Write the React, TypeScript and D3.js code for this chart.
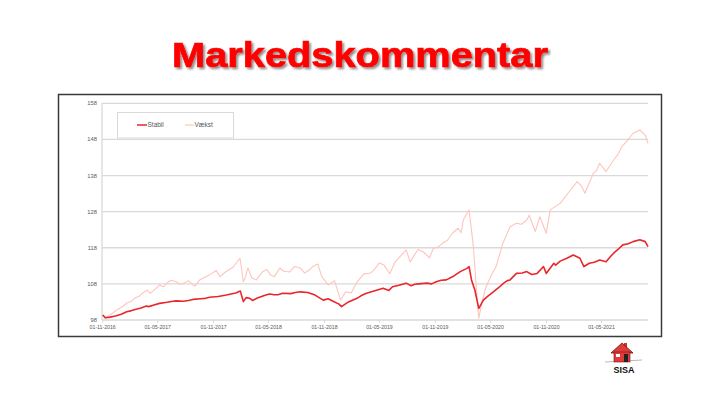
import React from 'react';
import * as d3 from 'd3';

const TITLE = 'Markedskommentar';
const seriesNames = ['Stabil', 'Vækst'];

const stabilDates = [
  '2016-11-01','2016-11-10','2016-11-25','2016-12-13','2017-01-01','2017-01-19','2017-02-04','2017-02-19',
  '2017-03-07','2017-03-25','2017-04-16','2017-05-07','2017-06-01','2017-07-01','2017-07-25','2017-08-25',
  '2017-09-19','2017-10-19','2017-11-16','2017-12-13','2018-01-13','2018-01-28','2018-02-07','2018-02-16',
  '2018-02-28','2018-03-10','2018-03-25','2018-04-22','2018-05-19','2018-06-16','2018-07-13','2018-08-13',
  '2018-09-07','2018-10-01','2018-10-28','2018-11-13','2018-12-01','2018-12-19','2018-12-27','2019-01-19',
  '2019-02-16','2019-03-19','2019-04-16','2019-05-13','2019-06-01','2019-06-13','2019-07-04','2019-07-28',
  '2019-08-13','2019-09-07','2019-10-04','2019-11-04','2019-12-07','2020-01-01','2020-01-22','2020-02-13',
  '2020-02-20','2020-02-28','2020-03-10','2020-03-23','2020-04-07','2020-04-22','2020-05-10','2020-05-28',
  '2020-06-13','2020-07-04','2020-07-25','2020-08-13','2020-08-28','2020-09-13','2020-10-01','2020-10-22',
  '2020-10-31','2020-11-25','2020-12-16','2021-01-07','2021-01-28','2021-02-19','2021-03-04','2021-03-22',
  '2021-04-07','2021-04-25','2021-05-16','2021-06-10','2021-06-25','2021-07-10','2021-07-28','2021-08-13',
  '2021-09-04','2021-09-22','2021-10-01',
  '2017-04-01','2017-06-15','2017-08-10','2017-10-05','2017-11-30','2018-05-05','2018-06-01','2018-07-28',
  '2019-03-01','2019-08-25','2019-10-20','2019-11-20','2020-06-25','2020-12-01','2021-06-01'
];
const stabilValues = [
  99.4, 98.6, 98.8, 99.1, 99.6, 100.3, 100.6, 101.0,
  101.3, 101.9, 102.1, 102.6, 102.9, 103.3, 103.2, 103.7,
  103.9, 104.3, 104.5, 104.9, 105.5, 106.0, 103.1, 104.2,
  104.0, 103.4, 104.1, 104.9, 105.0, 105.4, 105.3, 105.8,
  105.6, 104.9, 103.5, 103.9, 103.1, 102.4, 101.7, 103.0,
  104.0, 105.4, 106.1, 106.8, 106.2, 107.2, 107.6, 108.2,
  107.5, 108.0, 108.2, 108.6, 109.1, 110.2, 111.4, 112.3,
  112.8, 109.1, 106.3, 101.2, 103.5, 104.6, 105.8, 107.0,
  108.2, 109.1, 110.9, 111.0, 111.4, 110.6, 110.9, 112.8,
  110.9, 113.7, 114.3, 115.1, 116.0, 115.1, 112.8, 113.7,
  114.0, 114.6, 114.1, 116.5, 117.6, 118.8, 119.1, 119.7,
  120.2, 119.7, 118.3,
  101.7, 103.1, 103.4, 104.0, 104.7, 105.2, 105.0, 105.6,
  104.7, 107.9, 108.0, 109.0, 108.9, 113.2, 115.7
];

const vaekstDates = [
  '2016-11-01','2016-11-10','2016-11-25','2016-12-22','2017-01-07','2017-01-19','2017-02-04','2017-02-15',
  '2017-03-01','2017-03-13','2017-03-28','2017-04-16','2017-05-07','2017-06-04','2017-07-01','2017-07-28',
  '2017-08-25','2017-09-16','2017-10-19','2017-11-10','2017-11-22','2017-12-10','2018-01-04','2018-01-27',
  '2018-02-07','2018-02-12','2018-02-22','2018-03-07','2018-03-22','2018-04-10','2018-05-07','2018-06-07',
  '2018-07-10','2018-08-13','2018-09-13','2018-10-10','2018-10-22','2018-11-13','2018-12-04','2018-12-24',
  '2019-01-10','2019-01-28','2019-02-16','2019-03-10','2019-04-13','2019-05-16','2019-06-04','2019-06-22',
  '2019-07-07','2019-07-28','2019-08-10','2019-09-22','2019-10-13','2019-11-25','2019-12-28','2020-02-01',
  '2020-02-20','2020-03-04','2020-03-10','2020-03-20','2020-03-23','2020-04-04','2020-04-16','2020-05-04',
  '2020-05-19','2020-06-10','2020-07-04','2020-07-25','2020-08-28','2020-09-25','2020-10-10','2020-10-31',
  '2020-11-13','2020-12-16','2021-01-19','2021-02-10','2021-03-07','2021-04-04','2021-04-25','2021-05-16',
  '2021-06-10','2021-07-07','2021-07-22','2021-08-13','2021-09-04','2021-09-22','2021-10-01',
  '2017-04-05','2017-05-20','2017-06-15','2017-07-12','2017-08-10','2017-09-01','2018-04-25','2018-05-20',
  '2018-06-20','2018-07-25','2018-08-28','2018-09-25','2019-04-01','2019-05-01','2019-09-05','2019-10-25',
  '2019-11-10','2019-12-10','2020-01-15','2020-01-25','2020-08-10','2020-09-05','2021-02-25','2021-04-15',
  '2021-06-25'
];
const vaekstValues = [
  99.4, 98.6, 99.4, 101.0, 101.8, 102.7, 103.2, 104.1,
  104.6, 105.5, 106.3, 106.0, 107.7, 108.5, 108.6, 108.2,
  107.7, 109.1, 110.5, 111.7, 110.0, 111.3, 112.6, 115.1,
  108.6, 109.4, 112.4, 109.6, 109.1, 111.3, 110.5, 112.4,
  111.3, 112.4, 111.9, 113.5, 110.2, 107.7, 108.9, 103.5,
  105.8, 105.5, 108.5, 110.7, 111.9, 113.2, 110.8, 114.1,
  115.5, 117.4, 114.1, 116.9, 115.2, 119.3, 122.1, 125.7,
  128.5, 119.3, 112.8, 100.8, 98.5, 103.5, 107.2, 110.5,
  112.8, 119.2, 123.8, 124.8, 125.7, 122.5, 126.6, 122.0,
  128.5, 130.3, 134.0, 136.3, 133.1, 138.6, 141.4, 139.1,
  142.3, 146.0, 147.4, 149.7, 150.6, 149.2, 146.9,
  105.4, 107.2, 109.0, 107.9, 108.9, 107.4, 112.0, 110.0,
  111.5, 112.8, 111.0, 112.9, 111.0, 113.8, 117.5, 117.8,
  118.2, 120.0, 123.4, 122.2, 124.5, 127.0, 135.0, 139.5,
  144.0
];

const yTicks = [98, 108, 118, 128, 138, 148, 158];
const xTickDates = ['2016-11-01','2017-05-01','2017-11-01','2018-05-01','2018-11-01','2019-05-01','2019-11-01','2020-05-01','2020-11-01','2021-05-01'];
const xTickLabels = ['01-11-2016','01-05-2017','01-11-2017','01-05-2018','01-11-2018','01-05-2019','01-11-2019','01-05-2020','01-11-2020','01-05-2021'];
const xDomain = ['2016-11-01', '2021-10-01'];

const parse = d3.timeParse('%Y-%m-%d');
const FONT = '"Liberation Sans", Arial, sans-serif';

function pairs(dates: string[], values: number[]): [Date, number][] {
  return dates
    .map((d, i) => [parse(d) as Date, values[i]] as [Date, number])
    .sort((a, b) => a[0].getTime() - b[0].getTime());
}

export default function App() {
  const x = d3.scaleTime().domain(xDomain.map((d) => parse(d) as Date)).range([102.7, 648]);
  const y = d3.scaleLinear().domain([98, 158]).range([320, 103.3]);
  const line = d3.line<[Date, number]>().x((d) => x(d[0])).y((d) => y(d[1]));
  const stabil = pairs(stabilDates, stabilValues);
  const vaekst = pairs(vaekstDates, vaekstValues);
  const stabilColor = '#e8262b';
  const vaekstColor = '#ffc4bb';

  return (
    <svg width={720} height={405} style={{ position: 'absolute', left: 0, top: 0, background: '#fff' }}>
      <defs>
        <filter id="sh" x="-10%" y="-30%" width="120%" height="160%">
          <feGaussianBlur in="SourceAlpha" stdDeviation="1.2" />
          <feOffset dx="2" dy="2" result="o" />
          <feComponentTransfer><feFuncA type="linear" slope="0.45" /></feComponentTransfer>
          <feMerge><feMergeNode /><feMergeNode in="SourceGraphic" /></feMerge>
        </filter>
      </defs>
      <rect width={720} height={405} fill="#fff" />
      <text x={360} y={67} textAnchor="middle" fontFamily={FONT} fontWeight="bold" fontSize={35}
        fill="#ff0000" stroke="#ff0000" strokeWidth={0.7} textLength={376} lengthAdjust="spacingAndGlyphs" filter="url(#sh)">{TITLE}</text>

      <rect x={58.5} y={94.5} width={603} height={242} fill="#fff" stroke="#3a3a3a" strokeWidth={1.5} />

      {yTicks.map((t) => (
        <g key={t}>
          <line x1={102} x2={648} y1={y(t)} y2={y(t)} stroke="#d9d9d9" strokeWidth={1.3} />
          <text x={97} y={y(t) + 2} textAnchor="end" fontFamily={FONT} fontSize={5.8} fill="#595959">{t}</text>
        </g>
      ))}
      <line x1={102} x2={102} y1={y(158)} y2={320} stroke="#d9d9d9" strokeWidth={1.3} />
      {xTickDates.map((d, i) => {
        const xx = x(parse(d) as Date);
        return (
          <g key={d}>
            <line x1={xx} x2={xx} y1={320} y2={323} stroke="#d9d9d9" strokeWidth={1} />
            <text x={xx} y={329} textAnchor="middle" fontFamily={FONT} fontSize={5.2} fill="#595959">{xTickLabels[i]}</text>
          </g>
        );
      })}

      <path d={line(vaekst) || ''} fill="none" stroke={vaekstColor} strokeWidth={1.1} strokeLinejoin="round" />
      <path d={line(stabil) || ''} fill="none" stroke={stabilColor} strokeWidth={1.6} strokeLinejoin="round" />

      <rect x={117.5} y={112.5} width={116} height={25.5} fill="#fff" stroke="#d9d9d9" strokeWidth={1} />
      <line x1={137} x2={147} y1={125} y2={125} stroke={stabilColor} strokeWidth={1.5} />
      <text x={147.5} y={127.3} fontFamily={FONT} fontSize={6.5} fill="#595959">{seriesNames[0]}</text>
      <line x1={185} x2={194} y1={125} y2={125} stroke={vaekstColor} strokeWidth={1.2} />
      <text x={194.5} y={127.3} fontFamily={FONT} fontSize={6.5} fill="#595959">{seriesNames[1]}</text>

      <g>
        <line x1={605} x2={642} y1={362} y2={360} stroke="#888" strokeWidth={0.6} />
        <rect x={624} y={343} width={3} height={6} fill="#c0392b" />
        <path d="M611,353 L622,343 L633,353 Z" fill="#e03b3b" stroke="#7a1010" strokeWidth={0.8} />
        <rect x={614} y={352} width={16} height={10} fill="#e03b3b" stroke="#7a1010" strokeWidth={0.6} />
        <rect x={616} y={354} width={4} height={3} fill="#fff" />
        <rect x={624} y={354} width={4} height={8} fill="#222" />
        <text x={624} y={373} textAnchor="middle" fontFamily={FONT} fontWeight="bold" fontSize={9} fill="#111">SISA</text>
      </g>
    </svg>
  );
}
